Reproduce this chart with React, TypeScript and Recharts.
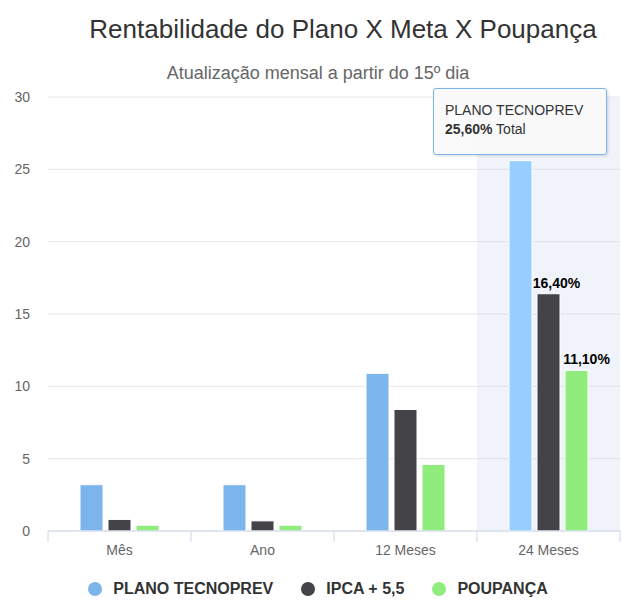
import React from 'react';
import {
  BarChart,
  Bar,
  XAxis,
  YAxis,
  CartesianGrid,
  Tooltip,
  Legend,
  LabelList,
  Cell,
} from 'recharts';

const categories = ['Mês', 'Ano', '12 Meses', '24 Meses'];
const planoValues = [3.2, 3.2, 10.9, 25.6];
const ipcaValues = [0.8, 0.7, 8.4, 16.4];
const poupancaValues = [0.4, 0.4, 4.6, 11.1];
const yTicks = [0, 5, 10, 15, 20, 25, 30];

const seriesNames = ['PLANO TECNOPREV', 'IPCA + 5,5', 'POUPANÇA'];
const seriesColors = ['#7cb5ec', '#434348', '#90ed7d'];
const hoverBlue = '#95ceff';
const labelledIndex = 3;

const fmt = (v: number) => v.toFixed(2).replace('.', ',') + '%';

const data = categories.map((c, i) => ({
  name: c,
  plano: planoValues[i],
  ipca: ipcaValues[i],
  poupanca: poupancaValues[i],
  ipcaLabel: i === labelledIndex ? fmt(ipcaValues[i]) : '',
  poupancaLabel: i === labelledIndex ? fmt(poupancaValues[i]) : '',
}));

const FONT = '"Liberation Sans", Arial, Helvetica, sans-serif';

const CatTick = (props: any) => {
  const { x, y, payload, width, visibleTicksCount, index } = props;
  const bw = width / (visibleTicksCount || 4);
  const axisY = y - 14;
  return (
    <g>
      <line x1={x - bw / 2} x2={x - bw / 2} y1={axisY} y2={axisY + 11} stroke="#ccd6eb" />
      {index === (visibleTicksCount || 4) - 1 && (
        <line x1={x + bw / 2} x2={x + bw / 2} y1={axisY} y2={axisY + 11} stroke="#ccd6eb" />
      )}
      <text x={x} y={y} dy="0.71em" textAnchor="middle" fill="#666" fontSize={14} fontFamily={FONT}>
        {payload.value}
      </text>
    </g>
  );
};

const TipContent = (props: any) => {
  const { active, payload } = props;
  if (!active || !payload || !payload.length) return null;
  const p = payload.find((q: any) => q.dataKey === 'plano') || payload[0];
  return (
    <div
      style={{
        position: 'relative',
        width: 174,
        height: 67,
        boxSizing: 'border-box',
        background: 'rgba(250,250,250,0.9)',
        border: '1px solid #7cb5ec',
        borderRadius: 3,
        boxShadow: '1px 1px 3px rgba(0,0,0,0.15)',
        padding: '12px 0 0 11px',
        fontFamily: FONT,
        fontSize: 14,
        color: '#333',
        lineHeight: '19px',
        whiteSpace: 'nowrap',
      }}
    >
      <div>{seriesNames[0]}</div>
      <div>
        <b>{fmt(p.value)}</b> Total
      </div>
    </div>
  );
};

const LegendContent = () => (
  <div
    style={{
      display: 'flex',
      justifyContent: 'center',
      alignItems: 'center',
      gap: 28,
      paddingLeft: 16,
      height: 22,
      fontFamily: FONT,
      fontSize: 16,
      fontWeight: 'bold',
      color: '#333',
    }}
  >
    {seriesNames.map((n, i) => (
      <div key={n} style={{ display: 'flex', alignItems: 'center' }}>
        <span
          style={{
            display: 'inline-block',
            width: 14,
            height: 14,
            borderRadius: 7,
            background: seriesColors[i],
            marginRight: 11,
          }}
        />
        <span>{n}</span>
      </div>
    ))}
  </div>
);

export default function App() {
  return (
    <div
      style={{
        position: 'absolute',
        left: 0,
        top: 0,
        width: 622,
        height: 607,
        background: '#fff',
        overflow: 'hidden',
      }}
    >
      <div
        style={{
          position: 'absolute',
          left: 32,
          top: 16,
          width: 622,
          textAlign: 'center',
          fontFamily: FONT,
          fontSize: 26,
          lineHeight: 1,
          color: '#333',
          zIndex: 2,
        }}
      >
        Rentabilidade do Plano X Meta X Poupança
      </div>
      <div
        style={{
          position: 'absolute',
          left: 7,
          top: 64,
          width: 622,
          textAlign: 'center',
          fontFamily: FONT,
          fontSize: 18,
          lineHeight: 1,
          color: '#666',
          zIndex: 2,
        }}
      >
        Atualização mensal a partir do 15º dia
      </div>
      <BarChart
        width={622}
        height={607}
        data={data}
        margin={{ top: 97, right: 2, left: 0, bottom: 7 }}
        barSize={23}
        barGap={5}
      >
        <CartesianGrid vertical={false} stroke="#e6e6e6" />
        <XAxis
          dataKey="name"
          height={47}
          axisLine={{ stroke: '#ccd6eb' }}
          tickLine={false}
          tickSize={0}
          tickMargin={14}
          tick={<CatTick />}
          interval={0}
        />
        <YAxis
          domain={[0, 30]}
          ticks={yTicks}
          width={48}
          axisLine={false}
          tickLine={false}
          tickSize={0}
          tickMargin={18}
          tick={{ fill: '#666', fontSize: 14, fontFamily: FONT }}
        />
        <Tooltip
          active={true}
          defaultIndex={3}
          shared={true}
          position={{ x: 433, y: 88 }}
          cursor={{ fill: 'rgba(204,214,235,0.3)' }}
          content={<TipContent />}
          isAnimationActive={false}
          wrapperStyle={{ zIndex: 3 }}
        />
        <Legend verticalAlign="bottom" content={<LegendContent />} wrapperStyle={{ height: 22 }} />
        <Bar dataKey="plano" name={seriesNames[0]} fill={seriesColors[0]} isAnimationActive={false} stroke="#fff" strokeWidth={1} activeBar={false}>
          {data.map((d, i) => (
            <Cell key={d.name} fill={i === labelledIndex ? hoverBlue : seriesColors[0]} />
          ))}
        </Bar>
        <Bar dataKey="ipca" name={seriesNames[1]} fill={seriesColors[1]} isAnimationActive={false} stroke="#fff" strokeWidth={1} activeBar={false}>
          <LabelList dataKey="ipcaLabel" position="top" offset={6} dx={8} fill="#000" fontSize={14} fontWeight="bold" fontFamily={FONT} />
        </Bar>
        <Bar dataKey="poupanca" name={seriesNames[2]} fill={seriesColors[2]} isAnimationActive={false} stroke="#fff" strokeWidth={1} activeBar={false}>
          <LabelList dataKey="poupancaLabel" position="top" offset={6} dx={10} fill="#000" fontSize={14} fontWeight="bold" fontFamily={FONT} />
        </Bar>
      </BarChart>
    </div>
  );
}
